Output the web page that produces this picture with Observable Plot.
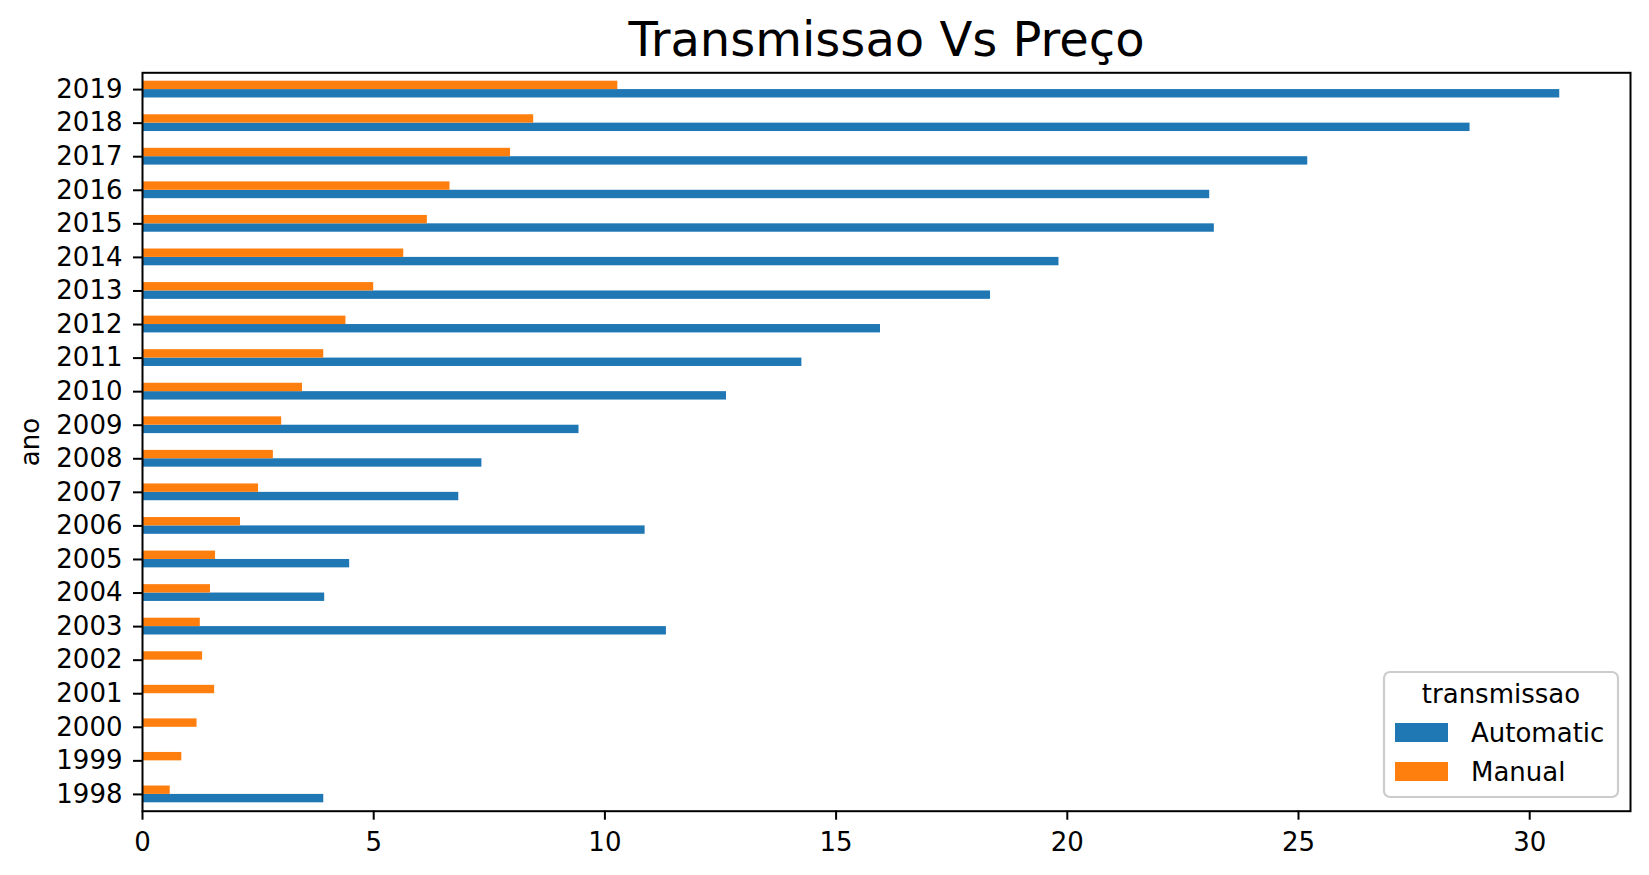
<!DOCTYPE html>
<html>
<head>
<meta charset="utf-8">
<script src="https://cdn.jsdelivr.net/npm/d3@7"></script>
<script src="https://cdn.jsdelivr.net/npm/@observablehq/plot@0.6"></script>
<style>
  html, body { margin: 0; padding: 0; background: #fff; }
  svg { display: block; }
</style>
</head>
<body>
<div id="chart"></div>
<script>
// ---- data ----
const years = [1998, 1999, 2000, 2001, 2002, 2003, 2004, 2005, 2006, 2007, 2008,
               2009, 2010, 2011, 2012, 2013, 2014, 2015, 2016, 2017, 2018, 2019];
const automatic = [3.92, null, null, null, null, 11.33, 3.94, 4.48, 10.87, 6.84, 7.34,
                   9.44, 12.63, 14.26, 15.96, 18.34, 19.82, 23.18, 23.08, 25.20, 28.71, 30.65];
const manual = [0.60, 0.85, 1.18, 1.56, 1.30, 1.25, 1.47, 1.58, 2.12, 2.51, 2.83,
                3.01, 3.46, 3.92, 4.40, 5.00, 5.65, 6.16, 6.65, 7.96, 8.46, 10.28];
const xTicks = [0, 5, 10, 15, 20, 25, 30];
const series = ["Automatic", "Manual"];
const seriesColors = ["#1f77b4", "#ff7f0e"];
const titleText = "Transmissao Vs Preço";
const yLabelText = "ano";
const legendTitle = "transmissao";

// ---- table ----
const rows = [];
years.forEach((y, i) => {
  if (automatic[i] != null) rows.push({ano: String(y), transmissao: "Automatic", preco: automatic[i]});
  if (manual[i] != null) rows.push({ano: String(y), transmissao: "Manual", preco: manual[i]});
});

// ---- layout ----
const W = 1649, H = 875;
const mL = 142, mR = 19, mT = 72.3, mB = 64.3;
const step = (H - mT - mB) / years.length;
const half = step * 0.25;
const FONT = "DejaVu Sans";

const plot = Plot.plot({
  width: W,
  height: H,
  marginLeft: mL,
  marginRight: mR,
  marginTop: mT,
  marginBottom: mB,
  style: {fontFamily: FONT, fontSize: "26px", background: "#fff", color: "#000", overflow: "visible"},
  x: {domain: [0, 32.18], ticks: xTicks, label: null},
  y: {domain: years.map(String).reverse(), paddingInner: 0.5, paddingOuter: 0.25, round: false, label: null},
  color: {domain: series, range: seriesColors},
  marks: [
    Plot.barX(rows.filter(d => d.transmissao === "Automatic"),
      {x1: 0, x2: "preco", y: "ano", fill: "transmissao", insetTop: half}),
    Plot.barX(rows.filter(d => d.transmissao === "Manual"),
      {x1: 0, x2: "preco", y: "ano", fill: "transmissao", insetBottom: half}),
    Plot.frame({stroke: "#000", strokeWidth: 2}),
    Plot.axisX({ticks: xTicks, tickSize: 9, tickPadding: 12, strokeWidth: 2, label: null}),
    Plot.axisY({tickSize: 9, tickPadding: 11, strokeWidth: 2, label: null}),
    Plot.text([titleText], {frameAnchor: "top", lineAnchor: "bottom", dy: -17, fontSize: 48, fill: "#000"}),
    Plot.text([yLabelText], {frameAnchor: "left", textAnchor: "middle", rotate: -90, dx: -104, lineAnchor: "bottom", fill: "#000"})
  ]
});

document.getElementById("chart").appendChild(plot);

// ---- legend (inside plot, lower right) ----
const color = plot.scale("color");
const svg = d3.select(plot);
const lg = svg.append("g").attr("font-family", FONT).attr("font-size", 26).attr("fill", "#000");
lg.append("rect")
  .attr("x", 1384).attr("y", 672).attr("width", 234).attr("height", 125)
  .attr("rx", 6).attr("ry", 6)
  .attr("fill", "#fff").attr("fill-opacity", 0.8)
  .attr("stroke", "#cccccc").attr("stroke-width", 2.2);
lg.append("text")
  .attr("x", 1501).attr("y", 703).attr("text-anchor", "middle")
  .text(legendTitle);
color.domain.forEach((name, i) => {
  const y0 = 723 + i * 39;
  lg.append("rect")
    .attr("x", 1395).attr("y", y0).attr("width", 53).attr("height", 19)
    .attr("fill", color.apply(name));
  lg.append("text")
    .attr("x", 1471).attr("y", y0 + 19).attr("text-anchor", "start")
    .text(name);
});
</script>
</body>
</html>
